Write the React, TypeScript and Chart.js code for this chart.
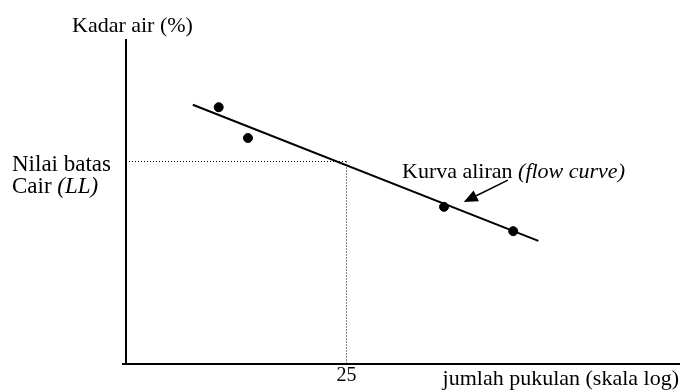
import { useEffect, useRef } from 'react';
import { Chart, registerables } from 'chart.js';

Chart.register(...registerables);

// Data (number of blows on a log scale vs. moisture content)
const blowCounts = [14.7, 16.6, 37.5, 50];
const moistureContents = [51.7, 47.9, 39.4, 36.4];
const flowCurveBlows = [13.2, 55.5];
const flowCurveMoisture = [52.0, 35.2];
const llBlows = 25;
const llMoisture = 45;
const xTickValues = [25];
const xRange = [10, 100];
const yRange = [20, 60];
const arrowTail = [48.9, 42.7];
const arrowHead = [40.7, 40];

const SERIF = '"Liberation Serif", "Times New Roman", Times, serif';

const annotationPlugin = {
  id: 'annotations',
  afterDraw(chart: any) {
    const { ctx, scales, chartArea } = chart;
    const xs = scales.x;
    const ys = scales.y;
    ctx.save();
    ctx.fillStyle = '#000';
    ctx.strokeStyle = '#000';
    ctx.textBaseline = 'alphabetic';
    ctx.textAlign = 'left';

    // small overshoot of the x axis line to the left of the y axis
    ctx.lineWidth = 2;
    ctx.beginPath();
    ctx.moveTo(chartArea.left - 4, chartArea.bottom);
    ctx.lineTo(chartArea.left, chartArea.bottom);
    ctx.stroke();

    const drawMixed = (parts: [string, boolean][], x: number, y: number, size = 22) => {
      let cx = x;
      for (const [t, it] of parts) {
        ctx.font = `${it ? 'italic ' : ''}${size}px ${SERIF}`;
        ctx.fillText(t, cx, y);
        cx += ctx.measureText(t).width;
      }
    };

    // Y axis title
    drawMixed([['Kadar air (%)', false]], 72, 32);
    // LL labels
    drawMixed([['Nilai batas', false]], 12, 171, 23);
    drawMixed([['Cair ', false], ['(LL)', true]], 12, 193, 23);
    // Flow curve label
    drawMixed([['Kurva aliran ', false], ['(flow curve)', true]], 402, 178);
    // X axis title
    ctx.font = `22px ${SERIF}`;
    ctx.textAlign = 'right';
    ctx.fillText('jumlah pukulan (skala log)', 679, 385);

    // Arrow
    const tx = xs.getPixelForValue(arrowTail[0]);
    const ty = ys.getPixelForValue(arrowTail[1]);
    const hx = xs.getPixelForValue(arrowHead[0]);
    const hy = ys.getPixelForValue(arrowHead[1]);
    const ang = Math.atan2(hy - ty, hx - tx);
    const headLen = 14;
    const headW = 6;
    const bx = hx - headLen * Math.cos(ang);
    const by = hy - headLen * Math.sin(ang);
    ctx.lineWidth = 1.5;
    ctx.beginPath();
    ctx.moveTo(tx, ty);
    ctx.lineTo(bx, by);
    ctx.stroke();
    ctx.beginPath();
    ctx.moveTo(hx, hy);
    ctx.lineTo(bx + headW * Math.sin(ang), by - headW * Math.cos(ang));
    ctx.lineTo(bx - headW * Math.sin(ang), by + headW * Math.cos(ang));
    ctx.closePath();
    ctx.fill();
    ctx.restore();
  },
};

export default function App() {
  const canvasRef = useRef<HTMLCanvasElement | null>(null);

  useEffect(() => {
    if (!canvasRef.current) return;
    const chart = new Chart(canvasRef.current, {
      type: 'scatter',
      data: {
        datasets: [
          {
            type: 'line',
            data: [
              { x: xRange[0], y: llMoisture },
              { x: llBlows, y: llMoisture },
            ],
            borderColor: '#000',
            borderWidth: 1,
            borderDash: [1, 2],
            pointRadius: 0,
            fill: false,
          },
          {
            type: 'line',
            data: [
              { x: llBlows, y: llMoisture },
              { x: llBlows, y: yRange[0] },
            ],
            borderColor: '#000',
            borderWidth: 1,
            borderDash: [1, 2],
            pointRadius: 0,
            fill: false,
          },
          {
            type: 'line',
            data: flowCurveBlows.map((x, i) => ({ x, y: flowCurveMoisture[i] })),
            borderColor: '#000',
            borderWidth: 2,
            pointRadius: 0,
            fill: false,
          },
          {
            type: 'scatter',
            data: blowCounts.map((x, i) => ({ x, y: moistureContents[i] })),
            backgroundColor: '#000',
            borderColor: '#000',
            pointRadius: 4.5,
            pointHoverRadius: 4.5,
          },
        ],
      } as any,
      options: {
        animation: false,
        responsive: false,
        events: [],
        layout: { autoPadding: false, padding: { left: 126, right: 0, top: 40, bottom: 4 } },
        plugins: {
          legend: { display: false },
          tooltip: { enabled: false },
        },
        scales: {
          x: {
            type: 'logarithmic',
            min: xRange[0],
            max: xRange[1],
            grid: { display: false, drawTicks: false },
            border: { display: true, color: '#000', width: 2 },
            afterBuildTicks: (axis: any) => {
              axis.ticks = xTickValues.map((v) => ({ value: v }));
            },
            ticks: {
              autoSkip: false,
              maxRotation: 0,
              padding: 0,
              color: '#000',
              font: { family: SERIF, size: 20 },
              callback: (v: any) => String(v),
            },
          },
          y: {
            type: 'linear',
            min: yRange[0],
            max: yRange[1],
            grid: { display: false, drawTicks: false },
            border: { display: true, color: '#000', width: 2 },
            ticks: { display: false },
          },
        },
      } as any,
      plugins: [annotationPlugin],
    });
    return () => chart.destroy();
  }, []);

  return (
    <div style={{ position: 'absolute', left: 0, top: 0, width: 680, height: 392, background: '#fff' }}>
      <canvas ref={canvasRef} width={680} height={392} style={{ display: 'block' }} />
    </div>
  );
}
